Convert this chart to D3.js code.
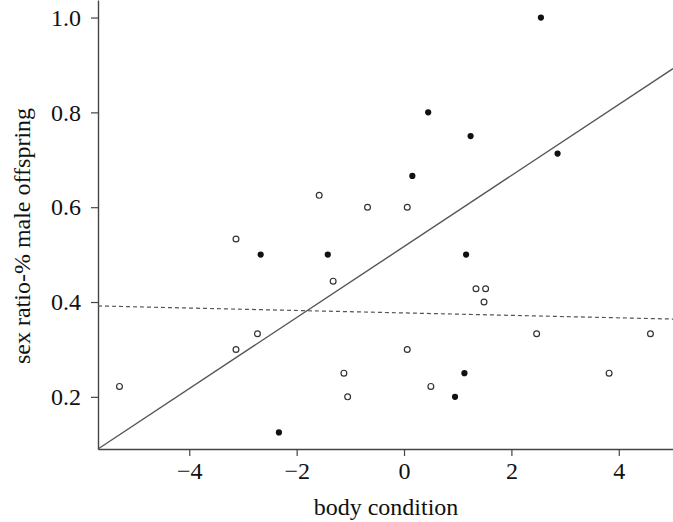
<!DOCTYPE html>
<html>
<head>
<meta charset="utf-8">
<script src="https://cdn.jsdelivr.net/npm/d3@7"></script>
<style>
  html, body { margin: 0; padding: 0; background: #fff; }
  svg { display: block; }
  text { font-family: "Liberation Serif", "DejaVu Serif", serif; fill: #111; }
</style>
</head>
<body>
<script>
// ---- data ----
const filledX = [2.55, 0.45, 1.24, 0.155, 2.86, -2.67, -1.42, 1.156, 1.125, 0.95, -2.33];
const filledY = [1.0, 0.80, 0.75, 0.666, 0.713, 0.50, 0.50, 0.50, 0.25, 0.20, 0.125];

const openX = [-3.13, -1.58, -0.68, 0.06, -1.32, 1.34, 1.52, 1.49, -2.73, -3.13, 0.06, -1.12, -1.05, 0.50, 2.47, 4.59, 3.82, -5.30];
const openY = [0.533, 0.625, 0.60, 0.60, 0.444, 0.428, 0.428, 0.40, 0.333, 0.30, 0.30, 0.25, 0.20, 0.222, 0.333, 0.333, 0.25, 0.222];

const lineIntercepts = [0.517, 0.377];
const lineSlopes = [0.0749, -0.00258];
const lineStyles = ["solid", "dashed"];

const xTicks = [-4, -2, 0, 2, 4];
const yTicks = [0.2, 0.4, 0.6, 0.8, 1.0];
const xLabel = "body condition";
const yLabel = "sex ratio-% male offspring";

// ---- layout ----
const W = 673, H = 522;
const mLeft = 98, mRight = 673, mTop = 0, mBottom = 449;
const xDomain = [-5.70, 5.01];
const yDomain = [0.09, 1.037];

const svg = d3.select("body").append("svg").attr("width", W).attr("height", H);

const x = d3.scaleLinear().domain(xDomain).range([mLeft, mRight]);
const y = d3.scaleLinear().domain(yDomain).range([mBottom, mTop]);

const axisColor = "#444";
const fmtX = d => (d < 0 ? "\u2212" + Math.abs(d) : String(d));

const gx = svg.append("g").attr("transform", `translate(0,${mBottom})`)
  .call(d3.axisBottom(x).tickValues(xTicks).tickFormat(fmtX).tickSizeOuter(0).tickSizeInner(7).tickPadding(6));
const gy = svg.append("g").attr("transform", `translate(${mLeft},0)`)
  .call(d3.axisLeft(y).tickValues(yTicks).tickFormat(d3.format(".1f")).tickSizeOuter(0).tickSizeInner(7).tickPadding(10));

[gx, gy].forEach(g => {
  g.select(".domain").attr("stroke", axisColor).attr("stroke-width", 1.4);
  g.selectAll(".tick line").attr("stroke", axisColor).attr("stroke-width", 1.2);
  g.selectAll(".tick text").attr("font-family", "Liberation Serif, serif").attr("font-size", 24).attr("fill", "#111");
});
gx.selectAll(".tick text").attr("dy", "0.71em");

// regression lines
lineIntercepts.forEach((b, i) => {
  const m = lineSlopes[i];
  svg.append("line")
    .attr("x1", x(xDomain[0])).attr("y1", y(b + m * xDomain[0]))
    .attr("x2", x(xDomain[1])).attr("y2", y(b + m * xDomain[1]))
    .attr("stroke", "#555")
    .attr("stroke-width", lineStyles[i] === "solid" ? 1.4 : 1.2)
    .attr("stroke-dasharray", lineStyles[i] === "dashed" ? "4,3" : null);
});

// open points
svg.append("g").selectAll("circle").data(openX.map((d, i) => [d, openY[i]])).join("circle")
  .attr("cx", d => x(d[0])).attr("cy", d => y(d[1])).attr("r", 2.9)
  .attr("fill", "#fff").attr("stroke", "#333").attr("stroke-width", 1.2);

// filled points
svg.append("g").selectAll("circle").data(filledX.map((d, i) => [d, filledY[i]])).join("circle")
  .attr("cx", d => x(d[0])).attr("cy", d => y(d[1])).attr("r", 3.1)
  .attr("fill", "#111");

// axis labels
svg.append("text").attr("x", 386).attr("y", 515).attr("text-anchor", "middle")
  .attr("font-size", 24).text(xLabel);
svg.append("text").attr("transform", `translate(30,236) rotate(-90)`).attr("text-anchor", "middle")
  .attr("font-size", 24).text(yLabel);
</script>
</body>
</html>
